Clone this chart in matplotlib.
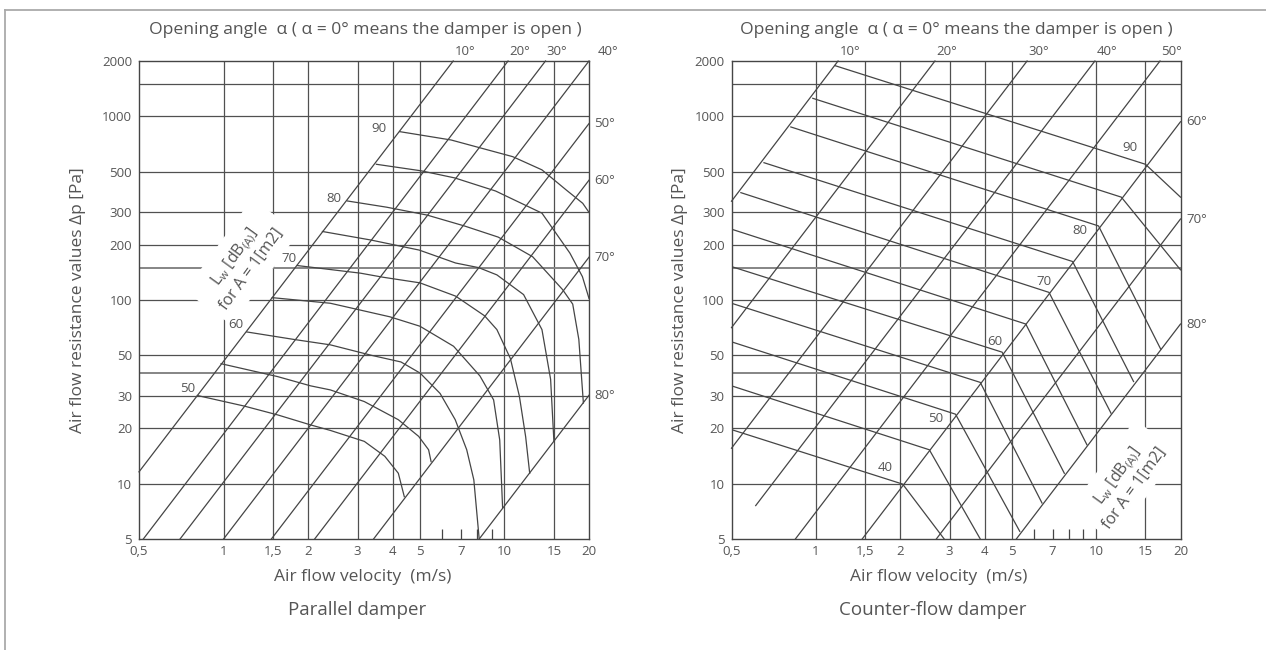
import matplotlib.pyplot as plt
from matplotlib.lines import Line2D
from matplotlib.ticker import NullFormatter, NullLocator

plt.rcParams['font.family'] = ['Open Sans', 'DejaVu Sans']

# axis ticks and grid (both charts)
tick_v = [0.5, 1, 1.5, 2, 3, 4, 5, 7, 10, 15, 20]
tick_v_labels = ['0,5', '1', '1,5', '2', '3', '4', '5', '7', '10', '15', '20']
grid_v = [1, 1.5, 2, 3, 4, 5, 10, 15]
minor_v = [6, 7, 8, 9]
tick_p = [5, 10, 20, 30, 50, 100, 200, 300, 500, 1000, 2000]
grid_p = [10, 20, 30, 50, 100, 200, 300, 500, 1000, 1500]
grid_p_light = [40, 150]

angle_names = ['10°', '20°', '30°', '40°', '50°', '60°', '70°', '80°']

# parallel damper: opening angle lines (v, dp) end points
par_angle_lines = [
    [(0.5, 11.6), (6.57, 2000)],
    [(0.518, 5), (10.3, 2000)],
    [(0.70, 5), (14.0, 2000)],
    [(1.0, 5), (20, 2000)],
    [(1.48, 5), (20, 913)],
    [(2.11, 5), (20, 449)],
    [(3.42, 5), (20, 171)],
    [(8.13, 5), (20, 30.3)],
]

# parallel damper: sound power curves
par_levels = [90, 85, 80, 75, 70, 65, 60, 55, 50]
par_curves = [
    [(4.24, 825), (6.46, 743), (10.7, 603), (13.6, 511), (16.6, 397), (19.0, 336), (20, 300)],
    [(3.5, 548), (5.05, 505), (6.65, 462), (9.3, 392), (13.6, 297), (17.1, 180), (18.95, 134), (20, 102)],
    [(2.76, 346), (3.81, 320), (5.3, 290), (7.2, 253), (9.5, 220), (12.6, 172), (16.1, 114),
     (17.5, 95), (18.4, 61), (19.1, 27.5)],
    [(2.25, 236), (3.35, 212), (4.97, 187), (6.7, 159), (8.1, 150), (9.4, 137), (11.7, 107),
     (13.6, 69), (14.6, 37), (15.0, 17)],
    [(1.83, 154), (3.07, 140), (3.7, 133), (5.0, 124), (6.7, 105), (8.5, 82), (9.4, 69),
     (10.5, 48), (11.3, 30), (11.9, 18), (12.3, 11.4)],
    [(1.49, 103), (2.40, 96), (3.91, 81), (5.0, 72), (6.59, 56), (8.18, 38.6), (9.15, 28.6),
     (9.62, 17.3), (9.85, 7.4)],
    [(1.21, 67), (1.78, 61), (2.40, 57), (3.36, 50), (4.28, 46), (5.01, 40), (5.9, 31),
     (6.68, 22.3), (7.34, 15.3), (7.78, 10.5), (8.13, 5)],
    [(0.98, 45), (1.556, 38.3), (2.04, 34.1), (2.40, 32.4), (3.17, 28), (4.19, 22.3),
     (4.95, 18.1), (5.37, 15.3), (5.48, 13.2)],
    [(0.807, 30.2), (1.18, 26.5), (1.556, 23.7), (2.04, 20.9), (2.40, 19.5), (3.17, 17.0),
     (3.75, 14.1), (4.19, 11.4), (4.40, 8.5)],
]
par_label_text = ['90', '80', '70', '60', '50']
par_label_pos = [(3.58, 861), (2.47, 355), (1.71, 169), (1.11, 74), (0.746, 33.1)]

# counter-flow damper: opening angle lines
cnt_angle_lines = [
    [(0.5, 345), (1.20, 2000)],
    [(0.5, 70.7), (2.66, 2000)],
    [(0.5, 15.6), (5.67, 2000)],
    [(0.61, 7.6), (9.9, 2000)],
    [(0.845, 5), (16.9, 2000)],
    [(1.463, 5), (20, 934)],
    [(2.69, 5), (20, 276)],
    [(5.19, 5), (20, 74)],
]

# counter-flow damper: sound power lines (start, kink, end)
cnt_levels = [90, 85, 80, 75, 70, 65, 60, 55, 50, 45, 40]
cnt_lines = [
    [(1.17, 1887), (15.0, 548), (20, 363)],
    [(0.975, 1253), (12.3, 363), (20, 146)],
    [(0.814, 875), (10.2, 253), (17.0, 54)],
    [(0.653, 559), (8.24, 162), (13.6, 36)],
    [(0.54, 384), (6.79, 110), (11.3, 24.2)],
    [(0.5, 243), (5.61, 74), (9.27, 16.3)],
    [(0.5, 152), (4.62, 52), (7.7, 11.4)],
    [(0.5, 96), (3.86, 35.6), (6.41, 7.85)],
    [(0.5, 59.2), (3.15, 23.9), (5.34, 5.5)],
    [(0.5, 34.1), (2.54, 15.3), (3.86, 5)],
    [(0.5, 19.7), (2.04, 9.95), (2.87, 5)],
]
cnt_label_text = ['90', '80', '70', '60', '50', '40']
cnt_label_pos = [(13.2, 675), (8.73, 240), (6.52, 126), (4.34, 59.4), (2.67, 22.7), (1.77, 12.2)]

W, H = 1266, 650
TXT = '#555555'
LINE = '#454545'
GRID = '#505050'

lw_text = 'L$_\\mathregular{w}$ [dB$_\\mathregular{(A)}$]\nfor A = 1[m2]'


def px(x, y):
    return x / W, 1 - y / H


def setup(ax):
    ax.set_xscale('log')
    ax.set_yscale('log')
    ax.set_xlim(0.5, 20)
    ax.set_ylim(5, 2000)
    for v in grid_v:
        ax.axvline(v, color=GRID, lw=0.9, zorder=1)
    for p in grid_p:
        ax.axhline(p, color=GRID, lw=0.9, zorder=1)
    for p in grid_p_light:
        ax.axhline(p, color='#858585', lw=1.4, zorder=1)
    ax.set_xticks(tick_v, tick_v_labels)
    ax.set_xticks(minor_v, minor=True)
    ax.xaxis.set_minor_formatter(NullFormatter())
    ax.xaxis.remove_overlapping_locs = False
    ax.set_yticks(tick_p, [str(p) for p in tick_p])
    ax.yaxis.set_minor_locator(NullLocator())
    ax.tick_params(which='major', length=0, labelsize=9.5, labelcolor=TXT)
    ax.tick_params(axis='x', which='major', pad=4)
    ax.tick_params(axis='y', which='major', pad=5)
    ax.tick_params(axis='x', which='minor', direction='in', length=7, width=0.9,
                   color=LINE, top=False)
    for s in ax.spines.values():
        s.set_color(LINE)
        s.set_linewidth(1.0)


def draw_angles(ax, lines):
    for name, ((v1, p1), (v2, p2)) in zip(angle_names, lines):
        ax.plot([v1, v2], [p1, p2], color=LINE, lw=0.9, zorder=3, clip_on=False)
        if p2 >= 2000:
            off = (6, 2) if v2 >= 20 else (1, 2)
            ax.annotate(name, (v2, p2), xytext=off, textcoords='offset points',
                        ha='left', va='bottom', fontsize=9.5, color=TXT)
        else:
            ax.annotate(name, (v2, p2), xytext=(4, 0), textcoords='offset points',
                        ha='left', va='center', fontsize=9.5, color=TXT)


fig = plt.figure(figsize=(W / 100, H / 100), dpi=100)
ax_l = fig.add_axes([139 / W, (H - 539) / H, 450 / W, 478 / H])
ax_r = fig.add_axes([731.5 / W, (H - 539) / H, 449 / W, 478 / H])

# parallel damper
setup(ax_l)
draw_angles(ax_l, par_angle_lines)
for pts in par_curves:
    ax_l.plot([q[0] for q in pts], [q[1] for q in pts], color=LINE, lw=0.9, zorder=3,
              solid_joinstyle='round')
for t, (v, p) in zip(par_label_text, par_label_pos):
    ax_l.text(v, p, t, ha='center', va='center', fontsize=9.5, color=TXT, zorder=4)
ax_l.text(1.17, 160, lw_text, rotation=54, ha='center', va='center', multialignment='center',
          fontsize=11.5, color=TXT, zorder=2,
          bbox=dict(boxstyle='square,pad=0.55', fc='white', ec='none'))

# counter-flow damper
setup(ax_r)
draw_angles(ax_r, cnt_angle_lines)
for pts in cnt_lines:
    ax_r.plot([q[0] for q in pts], [q[1] for q in pts], color=LINE, lw=0.9, zorder=3)
for t, (v, p) in zip(cnt_label_text, cnt_label_pos):
    ax_r.text(v, p, t, ha='center', va='center', fontsize=9.5, color=TXT, zorder=4)
ax_r.text(12.7, 10.3, lw_text, rotation=54, ha='center', va='center', multialignment='center',
          fontsize=11.5, color=TXT, zorder=2,
          bbox=dict(boxstyle='square,pad=0.45', fc='white', ec='none'))

title = 'Opening angle  α ( α = 0° means the damper is open )'
ylab = 'Air flow resistance values Δp [Pa]'
xlab = 'Air flow velocity  (m/s)'
fig.text(*px(365, 30), title, ha='center', va='center', fontsize=12.6, color=TXT)
fig.text(*px(956, 30), title, ha='center', va='center', fontsize=12.6, color=TXT)
fig.text(*px(78, 300), ylab, rotation=90, ha='center', va='center', fontsize=12.5, color=TXT)
fig.text(*px(680, 300), ylab, rotation=90, ha='center', va='center', fontsize=12.5, color=TXT)
fig.text(*px(363, 577), xlab, ha='center', va='center', fontsize=12.5, color=TXT)
fig.text(*px(939, 577), xlab, ha='center', va='center', fontsize=12.5, color=TXT)
fig.text(*px(357, 610), 'Parallel damper', ha='center', va='center', fontsize=13.5, color=TXT)
fig.text(*px(933, 610), 'Counter-flow damper', ha='center', va='center', fontsize=13.5, color=TXT)

# outer frame (top and left edges)
fig.add_artist(Line2D([5 / W, 1], [1 - 10 / H, 1 - 10 / H], transform=fig.transFigure,
                      color='#aaaaaa', lw=1.3))
fig.add_artist(Line2D([5 / W, 5 / W], [1 - 10 / H, 0], transform=fig.transFigure,
                      color='#aaaaaa', lw=1.3))

fig.savefig('out.png', dpi=100)
